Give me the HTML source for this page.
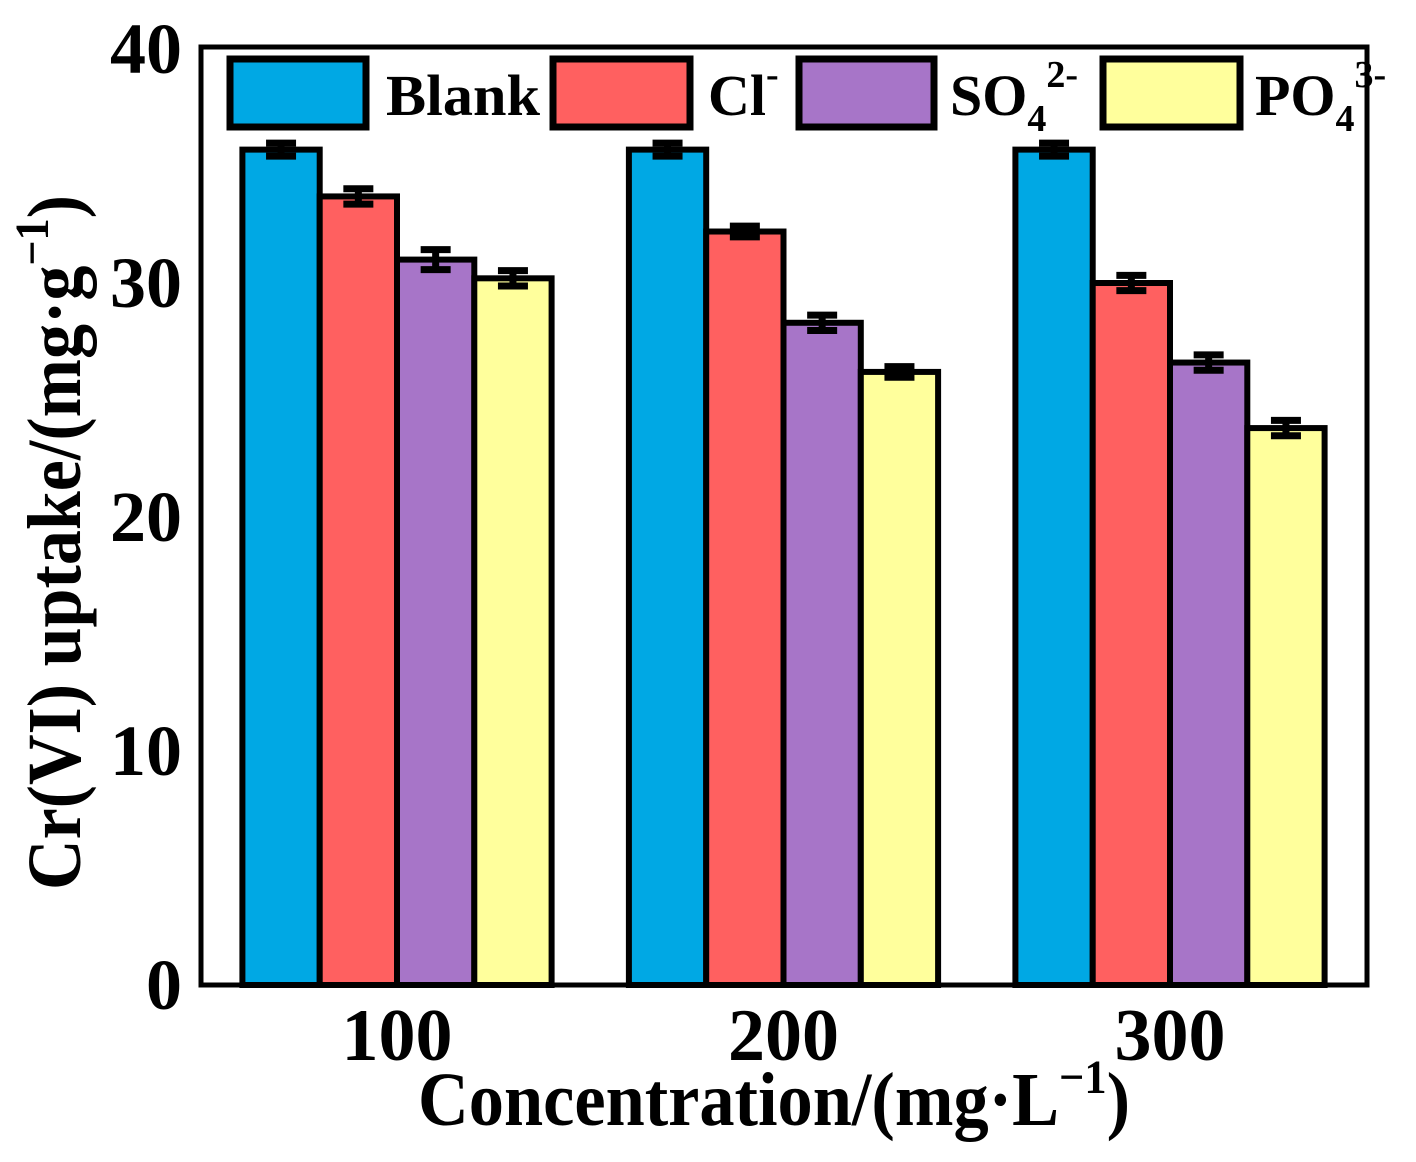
<!DOCTYPE html>
<html><head><meta charset="utf-8"><style>
html,body{margin:0;padding:0;background:#fff;}
svg text{font-family:"Liberation Serif",serif;font-weight:bold;fill:#000;}
</style></head><body>
<svg id="chart" width="1416" height="1157" viewBox="0 0 1416 1157" xmlns="http://www.w3.org/2000/svg">
<g id="bars"></g>
<rect x="201" y="47" width="1166" height="938" fill="none" stroke="#000" stroke-width="5"/>
<g id="yaxis"></g>
<g id="xaxis"></g>
<text x="418" y="1125" font-size="76" textLength="712" lengthAdjust="spacingAndGlyphs">Concentration/(mg·L<tspan font-size="48" dy="-32">−1</tspan><tspan dy="32">)</tspan></text>
<text transform="translate(80,890) rotate(-90)" font-size="76" textLength="695" lengthAdjust="spacingAndGlyphs">Cr(VI) uptake/(mg·g<tspan font-size="48" dy="-32">−1</tspan><tspan dy="32">)</tspan></text>
<g id="legend">
<rect x="230" y="59" width="136" height="68" fill="#00A8E4" stroke="#000" stroke-width="7"/>
<text x="386" y="115" font-size="58" textLength="154" lengthAdjust="spacingAndGlyphs">Blank</text>
<rect x="553" y="59" width="137" height="68" fill="#FF6060" stroke="#000" stroke-width="7"/>
<text x="708" y="115" font-size="58">Cl<tspan font-size="38" dy="-28">-</tspan></text>
<rect x="799" y="59" width="135" height="68" fill="#A775C8" stroke="#000" stroke-width="7"/>
<text x="950" y="115" font-size="58">SO<tspan font-size="38" dy="16">4</tspan><tspan font-size="38" dy="-44">2-</tspan></text>
<rect x="1103" y="59" width="137" height="68" fill="#FFFF9C" stroke="#000" stroke-width="7"/>
<text x="1255" y="115" font-size="58">PO<tspan font-size="38" dy="16">4</tspan><tspan font-size="38" dy="-44">3-</tspan></text>
</g>
</svg>
<script>
const categories = ["100","200","300"];
const seriesNames = ["Blank","Cl-","SO42-","PO43-"];
const blank = [35.7,35.7,35.7];
const cl = [33.7,32.2,30.0];
const so4 = [31.0,28.3,26.6];
const po4 = [30.2,26.2,23.8];
const errs = [[0.15,0.15,0.15],[0.2,0.1,0.2],[0.3,0.2,0.2],[0.2,0.1,0.2]];
const yTicks = [0,10,20,30,40];
const colors = ["#00A8E4","#FF6060","#A775C8","#FFFF9C"];
const series = [blank,cl,so4,po4];
const NS="http://www.w3.org/2000/svg";
const y = v => 985 - v*23.4;
const groupX = i => 397 + i*386.5;
const barW = 77.3;
function mk(tag, attrs, parent){const e=document.createElementNS(NS,tag);for(const k in attrs)e.setAttribute(k,attrs[k]);parent.appendChild(e);return e;}
const bars=document.getElementById('bars');
series.forEach((s,si)=>{
  s.forEach((v,ci)=>{
    const x0 = groupX(ci) - 2*barW + si*barW;
    const r = mk('rect',{x:x0,y:y(v),width:barW,height:985-y(v),fill:colors[si],stroke:'#000','stroke-width':6},bars);
    
    
    const cx = x0+barW/2, e=errs[si][ci];
    const g = mk('g',{stroke:'#000','stroke-width':7},bars);
    
    
    mk('line',{x1:cx,x2:cx,y1:y(v+e)-3,y2:y(v-e)+3},g);
    mk('line',{x1:cx-15,x2:cx+15,y1:y(v+e)-3,y2:y(v+e)-3},g);
    mk('line',{x1:cx-15,x2:cx+15,y1:y(v-e)+3,y2:y(v-e)+3},g);
  });
});
const ya=document.getElementById('yaxis');
yTicks.forEach(t=>{
  const tx=mk('text',{x:182,y:y(t)+24,'font-size':72,'text-anchor':'end'},ya);
  tx.textContent=t;
  
  
});
const xa=document.getElementById('xaxis');
categories.forEach((c,i)=>{
  const tx=mk('text',{x:groupX(i),y:1060,'font-size':74,'text-anchor':'middle'},xa);
  tx.textContent=c;
  
  
});
</script>
</body></html>
